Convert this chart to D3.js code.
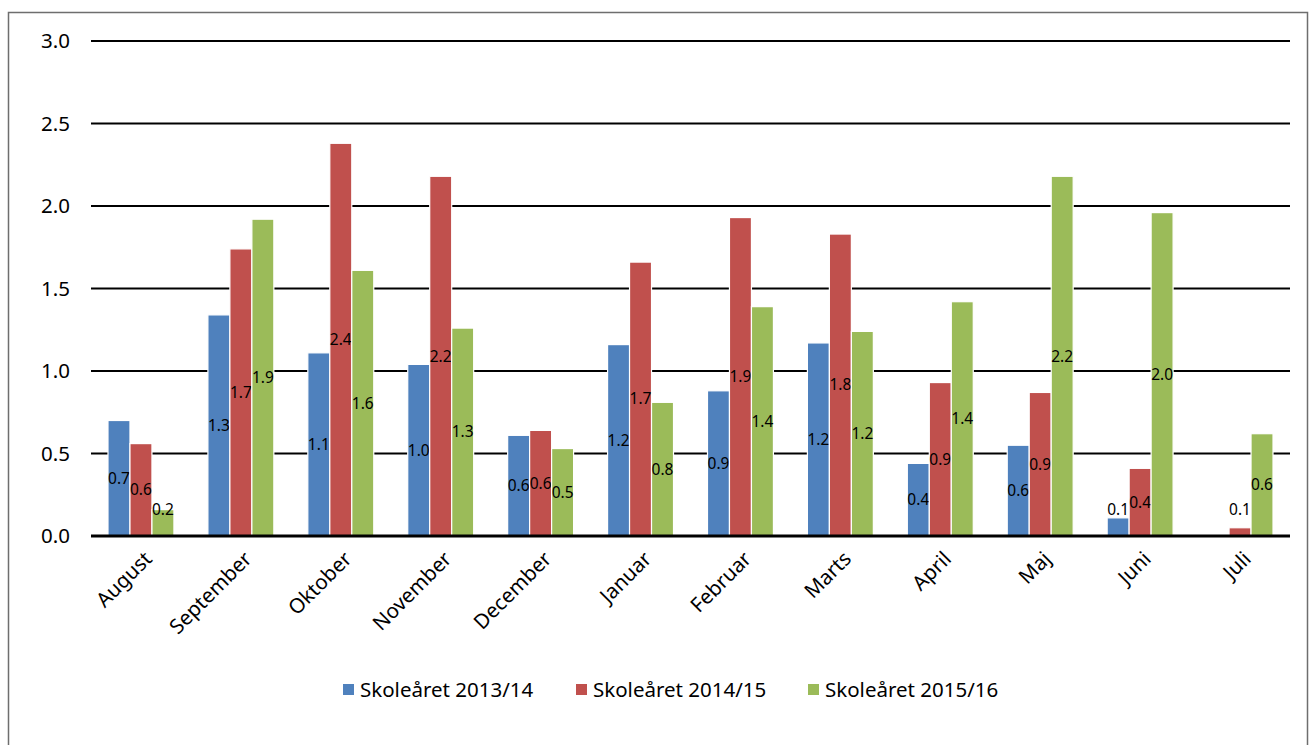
<!DOCTYPE html>
<html>
<head>
<meta charset="utf-8">
<script src="https://cdn.jsdelivr.net/npm/d3@7"></script>
<style>
  body { margin: 0; background: #fff; }
  svg { display: block; font-family: "Noto Sans", "Open Sans", sans-serif; }
  .grid line { stroke: #000; stroke-width: 2; }
</style>
</head>
<body>
<script>
// months of the school year
const months = ["August", "September", "Oktober", "November", "December", "Januar",
                "Februar", "Marts", "April", "Maj", "Juni", "Juli"];
const seriesNames = ["Skoleåret 2013/14", "Skoleåret 2014/15", "Skoleåret 2015/16"];
const colors = ["#4F81BD", "#C0504D", "#9BBB59"];

// values per series (null = no bar)
const v1314 = [0.70, 1.34, 1.11, 1.04, 0.61, 1.16, 0.88, 1.17, 0.44, 0.55, 0.11, null];
const v1415 = [0.56, 1.74, 2.38, 2.18, 0.64, 1.66, 1.93, 1.83, 0.93, 0.87, 0.41, 0.05];
const v1516 = [0.16, 1.92, 1.61, 1.26, 0.53, 0.81, 1.39, 1.24, 1.42, 2.18, 1.96, 0.62];
const yTicks = [0, 0.5, 1.0, 1.5, 2.0, 2.5, 3.0];

const series = [v1314, v1415, v1516];

const width = 1310, height = 745;
const margin = {left: 91, right: 20, top: 41, bottom: 209};

let svg = d3.select("body").append("svg")
    .attr("width", width)
    .attr("height", height);

// chart frame
svg.append("rect")
    .attr("x", 8.5).attr("y", 12.5)
    .attr("width", 1299).attr("height", 760)
    .attr("fill", "none")
    .attr("stroke", "#6e6e6e")
    .attr("stroke-width", 1.5);

let x = d3.scaleBand()
    .domain(months)
    .range([margin.left, width - margin.right])
    .paddingInner(0.34)
    .paddingOuter(0.17);

let xs = d3.scaleBand()
    .domain(d3.range(series.length))
    .range([0, x.bandwidth()]);

let y = d3.scaleLinear()
    .domain([0, 3])
    .range([height - margin.bottom, margin.top]);

// gridlines
svg.append("g")
    .attr("class", "grid")
    .selectAll("line")
    .data(yTicks.slice(1))
    .enter()
    .append("line")
    .attr("x1", margin.left).attr("x2", width - margin.right)
    .attr("y1", d => y(d)).attr("y2", d => y(d));

// y tick labels
svg.append("g")
    .selectAll("text")
    .data(yTicks)
    .enter()
    .append("text")
    .attr("x", 70)
    .attr("y", d => y(d))
    .attr("dy", "0.35em")
    .attr("text-anchor", "end")
    .attr("font-size", 20.5)
    .text(d => d.toFixed(1));

// bars
let groups = svg.append("g")
    .selectAll("g")
    .data(series)
    .enter()
    .append("g")
    .attr("fill", (d, i) => colors[i]);

groups.each(function(vals, si) {
    let g = d3.select(this);
    let pts = months.map((m, i) => ({m: m, v: vals[i]})).filter(d => d.v != null);
    g.selectAll("rect")
        .data(pts)
        .enter()
        .append("rect")
        .attr("x", d => x(d.m) + xs(si))
        .attr("y", d => y(d.v))
        .attr("width", xs.bandwidth())
        .attr("height", d => y(0) - y(d.v))
        .attr("stroke", "#fff")
        .attr("stroke-width", 1.2);
});

// x axis line
svg.append("line")
    .attr("x1", margin.left).attr("x2", width - margin.right)
    .attr("y1", y(0)).attr("y2", y(0))
    .attr("stroke", "#000")
    .attr("stroke-width", 3);

// data labels, centred in the bar
groups.each(function(vals, si) {
    let g = d3.select(this);
    let pts = months.map((m, i) => ({m: m, v: vals[i]})).filter(d => d.v != null);
    g.selectAll("text")
        .data(pts)
        .enter()
        .append("text")
        .attr("x", d => x(d.m) + xs(si) + xs.bandwidth() / 2)
        .attr("y", d => Math.min((y(d.v) + y(0)) / 2, y(0) - 26))
        .attr("dy", "0.35em")
        .attr("text-anchor", "middle")
        .attr("font-size", 15.5)
        .attr("fill", "#000")
        .text(d => d.v.toFixed(1));
});

// month labels, rotated
svg.append("g")
    .selectAll("text")
    .data(months)
    .enter()
    .append("text")
    .attr("transform", d => `translate(${x(d) + x.bandwidth() / 2 + 2},${y(0) + 14}) rotate(-45)`)
    .attr("text-anchor", "end")
    .attr("dy", "0.7em")
    .attr("font-size", 20.5)
    .text(d => d);

// legend
let legendX = [343, 576, 808];
let legend = svg.append("g")
    .selectAll("g")
    .data(seriesNames)
    .enter()
    .append("g")
    .attr("transform", (d, i) => `translate(${legendX[i]},690)`);

legend.append("rect")
    .attr("x", 0).attr("y", -6)
    .attr("width", 11).attr("height", 11)
    .attr("fill", (d, i) => colors[i]);

legend.append("text")
    .attr("x", 17)
    .attr("y", 0)
    .attr("dy", "0.35em")
    .attr("font-size", 20.5)
    .text(d => d);
</script>
</body>
</html>
